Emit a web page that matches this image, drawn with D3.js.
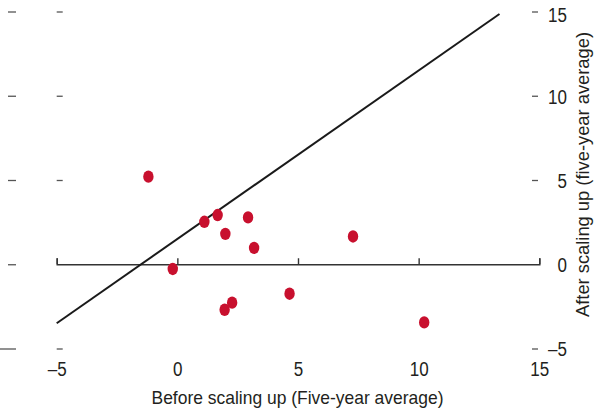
<!DOCTYPE html>
<html>
<head>
<meta charset="utf-8">
<script src="https://cdn.jsdelivr.net/npm/d3@7"></script>
<style>
  body { margin: 0; background: #fff; }
  text { font-family: "Liberation Sans", Arial, sans-serif; fill: #231f20; }
</style>
</head>
<body>
<div id="chart"></div>
<script>
// Data
const before = [-1.2, 1.12, 1.67, 2.93, 1.99, 3.18, 7.28, -0.19, 2.27, 1.96, 4.65, 10.23];
const after = [5.2, 2.52, 2.92, 2.78, 1.8, 0.97, 1.65, -0.28, -2.28, -2.7, -1.75, -3.45];
const tickVals = [-5, 0, 5, 10, 15];
// reference line y = x + 1.5
const refLine = [[-5, -3.5], [13.35, 14.85]];

const width = 602;
const height = 412;
const squeeze = 0.83; // condensed look for the tick digits

const svg = d3.select("#chart").append("svg")
  .attr("width", width)
  .attr("height", height);

const x = d3.scaleLinear().domain([-5, 15]).range([56.7, 539.3]);
const y = d3.scaleLinear().domain([-5, 15]).range([348.5, 11.5]);

const fmt = d => d < 0 ? "\u2013" + Math.abs(d) : String(d);

// left dash columns (unlabelled ticks)
const leftOuter = svg.append("g")
  .attr("transform", "translate(8,0)")
  .call(d3.axisRight(y).tickValues(tickVals).tickSize(8).tickFormat(""));
leftOuter.select(".domain").remove();
leftOuter.selectAll(".tick line")
  .attr("stroke", "#555").attr("stroke-width", 1.3)
  .filter(d => d === -5).attr("x1", -8);

const leftInner = svg.append("g")
  .attr("transform", `translate(${x(-5)},0)`)
  .call(d3.axisRight(y).tickValues([-5, 5, 10, 15]).tickSize(6).tickFormat(""));
leftInner.select(".domain").remove();
leftInner.selectAll(".tick line").attr("stroke", "#555").attr("stroke-width", 1.3);

// right axis with labels
const right = svg.append("g")
  .attr("transform", "translate(532,0)")
  .call(d3.axisRight(y).tickValues(tickVals).tickSize(6).tickFormat(fmt));
right.select(".domain").remove();
right.selectAll(".tick line").attr("stroke", "#555").attr("stroke-width", 1.3)
  .filter(d => d === 0).remove();
right.selectAll(".tick text")
  .attr("text-anchor", "end")
  .attr("font-size", 20.5)
  .attr("dy", d => d === 15 ? "0.48em" : "0.36em")
  .attr("transform", `scale(${squeeze},1)`)
  .attr("x", 35 / squeeze);

// zero axis with upward ticks
const zero = svg.append("g")
  .attr("transform", `translate(0,${y(0)})`)
  .call(d3.axisTop(x).tickValues(tickVals).tickSize(6).tickFormat(""));
zero.select(".domain").attr("stroke", "#333").attr("stroke-width", 1.4);
zero.selectAll(".tick line").attr("stroke", "#333").attr("stroke-width", 1.4);

// bottom tick labels
const bottom = svg.append("g")
  .attr("transform", `translate(0,${y(-5) + 9.5})`)
  .call(d3.axisBottom(x).tickValues(tickVals).tickSize(0).tickFormat(fmt));
bottom.select(".domain").remove();
bottom.selectAll(".tick text").attr("font-size", 20.5).attr("dy", "0.71em")
  .attr("transform", `scale(${squeeze},1)`);

// 45 degree reference line
svg.append("path")
  .datum(refLine)
  .attr("fill", "none")
  .attr("stroke", "#1a1a1a")
  .attr("stroke-width", 2)
  .attr("d", d3.line().x(d => x(d[0])).y(d => y(d[1])));

// points
svg.append("g")
  .selectAll("ellipse")
  .data(before.map((b, i) => [b, after[i]]))
  .join("ellipse")
  .attr("cx", d => x(d[0]))
  .attr("cy", d => y(d[1]))
  .attr("rx", 5.2)
  .attr("ry", 6.2)
  .attr("fill", "#c8102e");

// axis titles
svg.append("text")
  .attr("x", 297.5)
  .attr("y", 404)
  .attr("text-anchor", "middle")
  .attr("font-size", 17.7)
  .attr("textLength", 292)
  .attr("lengthAdjust", "spacingAndGlyphs")
  .text("Before scaling up (Five-year average)");

svg.append("text")
  .attr("transform", "translate(589,174.5) rotate(-90)")
  .attr("text-anchor", "middle")
  .attr("font-size", 17.7)
  .attr("textLength", 285)
  .attr("lengthAdjust", "spacingAndGlyphs")
  .text("After scaling up (five-year average)");
</script>
</body>
</html>
